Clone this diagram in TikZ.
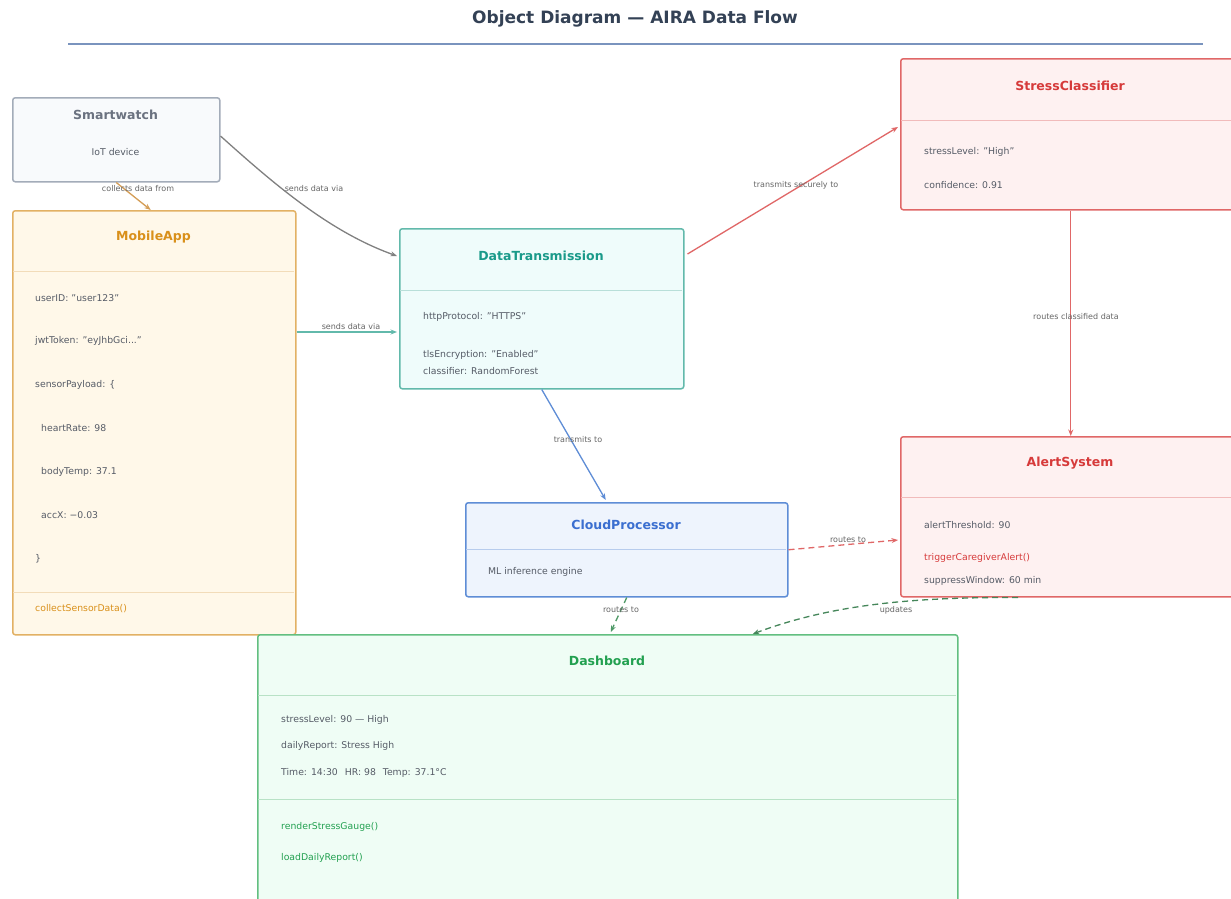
\documentclass[tikz,border=0pt]{standalone}
\usepackage{fontspec}
\setmainfont{DejaVu Sans}
\usetikzlibrary{arrows.meta,calc}
\definecolor{swF}{HTML}{F8FAFC}\definecolor{swD}{HTML}{A3ACB9}\definecolor{swT}{HTML}{6B7280}
\definecolor{maF}{HTML}{FFF8E9}\definecolor{maD}{HTML}{E2B164}\definecolor{maT}{HTML}{D9901A}
\definecolor{dtF}{HTML}{EFFCFB}\definecolor{dtD}{HTML}{62B9AB}\definecolor{dtT}{HTML}{1A9A8A}
\definecolor{rdF}{HTML}{FEF1F1}\definecolor{rdD}{HTML}{E06767}\definecolor{rdT}{HTML}{D63A3A}
\definecolor{cpF}{HTML}{EEF4FD}\definecolor{cpD}{HTML}{5E8DD6}\definecolor{cpT}{HTML}{3B6FD0}
\definecolor{dbF}{HTML}{EFFDF5}\definecolor{dbD}{HTML}{62BF80}\definecolor{dbT}{HTML}{22A050}
\definecolor{attr}{HTML}{555B66}\definecolor{lblc}{HTML}{666666}
\definecolor{hdr}{HTML}{334155}\definecolor{hline}{HTML}{7A94BE}
\begin{document}
\begin{tikzpicture}[x=1pt,y=-1pt,
  box/.style={draw, line width=1.5pt, rounded corners=2.5pt, inner sep=0pt, anchor=north west},
  ttl/.style={font=\bfseries\fontsize{12.5}{15}\selectfont},
  att/.style={anchor=west, inner sep=0pt, text=attr, font=\fontsize{9.3}{11}\selectfont},
  lbl/.style={inner sep=0.5pt, text=lblc, font=\fontsize{8}{10}\selectfont},
  div/.style={line width=0.6pt},
  arr/.style={line width=1.3pt, -{Stealth[length=6.5pt,width=5pt]}},
  dsh/.style={arr, dash pattern=on 6pt off 4pt}]
\useasboundingbox (0,0) rectangle (1231,898);
\fill[white] (0,0) rectangle (1231,898);
% title
\node[font=\bfseries\fontsize{17}{20}\selectfont, text=hdr] (title) at (635,19) {Object Diagram — AIRA Data Flow};
\draw[hline, line width=2pt] (68,44) -- (1203,44);

% Smartwatch
\node[box, draw=swD, fill=swF, minimum width=207pt, minimum height=84pt] (sw) at (12,97) {};
\node[ttl, text=swT] (swt) at (115.5,115) {Smartwatch};
\node[att, anchor=center] (swa) at (115.5,152) {IoT device};

% MobileApp
\node[box, draw=maD, fill=maF, minimum width=283pt, minimum height=424pt] (ma) at (12,210) {};
\node[ttl, text=maT] (mat) at (153.5,237) {MobileApp};
\draw[div, maD!45] (13,271) -- (294,271);
\draw[div, maD!45] (13,592) -- (294,592);
\node[att] (ma1) at (35,298) {userID: "user123"};
\node[att] (ma2) at (35,341) {jwtToken: "eyJhbGci..."};
\node[att] (ma3) at (35,385) {sensorPayload: \{};
\node[att] (ma4) at (41,428) {heartRate: 98};
\node[att] (ma5) at (41,472) {bodyTemp: 37.1};
\node[att] (ma6) at (41,515) {accX: −0.03};
\node[att] (ma7) at (35,559) {\}};
\node[att, text=maT] (ma8) at (35,609) {collectSensorData()};

% DataTransmission
\node[box, draw=dtD, fill=dtF, minimum width=284pt, minimum height=160pt] (dt) at (399,228) {};
\node[ttl, text=dtT] (dtt) at (541,256) {DataTransmission};
\draw[div, dtD!45] (400,290) -- (682,290);
\node[att] (dt1) at (423,317) {httpProtocol: "HTTPS"};
\node[att] (dt2) at (423,355) {tlsEncryption: "Enabled"};
\node[att] (dt3) at (423,371) {classifier: RandomForest};

% StressClassifier
\node[box, draw=rdD, fill=rdF, minimum width=340pt, minimum height=151pt] (sc) at (900,58) {};
\node[ttl, text=rdT] (sct) at (1070,86) {StressClassifier};
\draw[div, rdD!45] (901,120) -- (1240,120);
\node[att] (sc1) at (924,152) {stressLevel: "High"};
\node[att] (sc2) at (924,185) {confidence: 0.91};

% AlertSystem
\node[box, draw=rdD, fill=rdF, minimum width=340pt, minimum height=160pt] (as) at (900,436) {};
\node[ttl, text=rdT] (ast) at (1070,463) {AlertSystem};
\draw[div, rdD!45] (901,497) -- (1240,497);
\node[att] (as1) at (924,525) {alertThreshold: 90};
\node[att, text=rdT] (as2) at (924,558) {triggerCaregiverAlert()};
\node[att] (as3) at (924,581) {suppressWindow: 60 min};

% CloudProcessor
\node[box, draw=cpD, fill=cpF, minimum width=322pt, minimum height=94pt] (cp) at (465,502) {};
\node[ttl, text=cpT] (cpt) at (626,525) {CloudProcessor};
\draw[div, cpD!45] (466,549) -- (786,549);
\node[att] (cp1) at (488,572) {ML inference engine};

% Dashboard
\node[box, draw=dbD, fill=dbF, minimum width=700pt, minimum height=270pt] (db) at (257,634) {};
\node[ttl, text=dbT] (dbt) at (607,661) {Dashboard};
\draw[div, dbD!45] (258,695) -- (956,695);
\draw[div, dbD!45] (258,799) -- (956,799);
\node[att] (db1) at (281,720) {stressLevel: 90 — High};
\node[att] (db2) at (281,746) {dailyReport: Stress High};
\node[att] (db3) at (281,773) {Time: 14:30\hspace{7pt}HR: 98\hspace{7pt}Temp: 37.1°C};
\node[att, text=dbT] (db4) at (281,827) {renderStressGauge()};
\node[att, text=dbT] (db5) at (281,858) {loadDailyReport()};

% connectors
\draw[arr, draw=maD!60!brown] (sw.south) -- ($(ma.north)+(-3.5,0)$);
\node[lbl] (l1) at (138,189) {collects data from};

\draw[arr, draw=gray] ($(sw.north east)+(0,39)$) .. controls (275,185) and (330,232) .. ($(dt.north west)+(-2,28)$);
\node[lbl] (l2) at (314,189) {sends data via};

\draw[arr, draw=dtD] ($(ma.north east)+(0,122)$) -- ($(dt.north west)+(-2,104)$);
\node[lbl] (l3) at (351,327) {sends data via};

\draw[arr, draw=rdD] ($(dt.north east)+(3,26)$) -- ($(sc.north west)+(-2,69)$);
\node[lbl] (l4) at (796,185) {transmits securely to};

\draw[arr, draw=rdD] (sc.south) -- (as.north);
\node[lbl] (l5) at (1076,317) {routes classified data};

\draw[arr, draw=cpD] (dt.south) -- ($(cp.north)+(-21,-2)$);
\node[lbl] (l6) at (578,440) {transmits to};

\draw[dsh, draw=rdD] (cp.east) -- ($(as.north west)+(-2,104)$);
\node[lbl] (l7) at (848,540) {routes to};

\draw[dsh, draw=dbD!80!black] (cp.south) -- ($(db.north)+(3,-2)$);
\node[lbl] (l8) at (621,610) {routes to};

\draw[dsh, draw=dbD!70!black] ($(as.south west)+(118,0)$) .. controls (910,597) and (830,605) .. ($(db.north)+(145,0)$);
\node[lbl] (l9) at (896,610) {updates};
\end{tikzpicture}
\end{document}
